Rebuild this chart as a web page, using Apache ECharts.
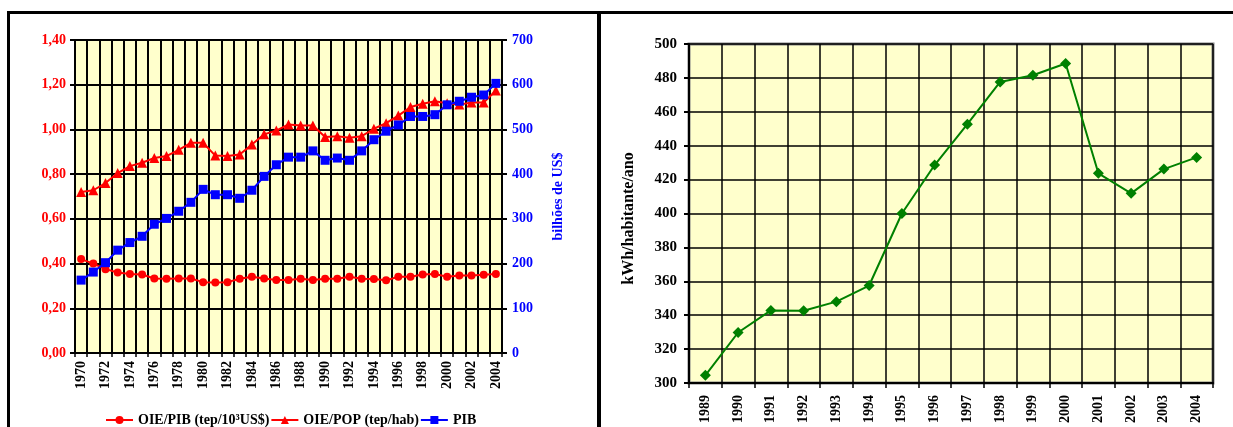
<!DOCTYPE html>
<html>
<head>
<meta charset="utf-8">
<script src="https://cdn.jsdelivr.net/npm/echarts@6/dist/echarts.min.js"></script>
<style>
html,body{margin:0;padding:0;background:#fff;}
#c{width:1233px;height:427px;}
</style>
</head>
<body>
<div id="c"></div>
<script>
const yearsLeft = ['1970','1971','1972','1973','1974','1975','1976','1977','1978','1979','1980','1981','1982','1983','1984','1985','1986','1987','1988','1989','1990','1991','1992','1993','1994','1995','1996','1997','1998','1999','2000','2001','2002','2003','2004'];
const oiePib = [0.42,0.40,0.375,0.36,0.353,0.351,0.333,0.332,0.333,0.333,0.317,0.315,0.317,0.332,0.341,0.333,0.326,0.326,0.332,0.326,0.332,0.332,0.341,0.332,0.331,0.325,0.341,0.341,0.351,0.353,0.341,0.347,0.347,0.35,0.353];
const oiePop = [0.72,0.728,0.76,0.805,0.836,0.851,0.872,0.881,0.909,0.94,0.94,0.883,0.881,0.888,0.933,0.978,0.995,1.022,1.018,1.018,0.966,0.97,0.963,0.97,1.003,1.028,1.062,1.10,1.115,1.126,1.117,1.111,1.12,1.12,1.174];
const pib = [163,181,202,230,247,261,288,301,317,337,366,354,354,346,364,395,421,438,438,452,431,436,431,452,477,496,510,529,529,533,555,563,572,577,603];
const yearsRight = ['1989','1990','1991','1992','1993','1994','1995','1996','1997','1998','1999','2000','2001','2002','2003','2004'];
const kwh = [304.5,329.8,342.8,342.6,348,357.5,400,428.6,452.7,477.6,481.6,488.5,423.7,411.9,426.2,433.1];
const leftTicks = {min:0, max:1.4, interval:0.2};
const rightTicks = {min:0, max:700, interval:100};
const kwhTicks = {min:300, max:500, interval:20};

const SERIF = '"Liberation Serif","Times New Roman",serif';
const chart = echarts.init(document.getElementById('c'), null, {renderer:'canvas'});
chart.setOption({
  animation:false,
  backgroundColor:'#ffffff',
  textStyle:{fontFamily:SERIF},
  grid:[
    {left:75, top:40, width:427, height:313, show:true, backgroundColor:'#FFFFCC', borderColor:'#808080', borderWidth:2},
    {left:689, top:44, width:524, height:339, show:true, backgroundColor:'#FFFFCC', borderColor:'#808080', borderWidth:3}
  ],
  legend:{
    left:100, top:408, itemWidth:27, itemHeight:10, itemGap:1,
    textStyle:{fontFamily:SERIF, fontWeight:'bold', fontSize:14, color:'#000'},
    data:['OIE/PIB (tep/10³US$)','OIE/POP (tep/hab)','PIB']
  },
  xAxis:[
    {type:'category', gridIndex:0, data:yearsLeft, boundaryGap:true,
     axisLine:{lineStyle:{color:'#000', width:2}},
     axisTick:{show:true, interval:0, length:4, lineStyle:{color:'#000', width:1.5}},
     axisLabel:{interval:1, rotate:90, margin:8, color:'#000', fontWeight:'bold', fontSize:14, fontFamily:SERIF},
     splitLine:{show:true, interval:0, lineStyle:{color:'#000', width:2}}},
    {type:'category', gridIndex:1, data:yearsRight, boundaryGap:true,
     axisLine:{lineStyle:{color:'#000', width:2}},
     axisTick:{show:true, interval:0, length:5, lineStyle:{color:'#000', width:1.5}},
     axisLabel:{interval:0, rotate:90, margin:12, color:'#000', fontWeight:'bold', fontSize:14, fontFamily:SERIF},
     splitLine:{show:true, interval:0, lineStyle:{color:'#000', width:1.5}}}
  ],
  yAxis:[
    {type:'value', gridIndex:0, min:leftTicks.min, max:leftTicks.max, interval:leftTicks.interval, position:'left',
     axisLine:{show:true, lineStyle:{color:'#000', width:2}},
     axisTick:{show:true, length:5, lineStyle:{color:'#000', width:2}},
     axisLabel:{margin:9, color:'#FF0000', fontWeight:'bold', fontSize:14, fontFamily:SERIF,
       formatter:v=>v.toFixed(2).replace('.',',')},
     splitLine:{show:true, lineStyle:{color:'#000', width:2}}},
    {type:'value', gridIndex:0, min:rightTicks.min, max:rightTicks.max, interval:rightTicks.interval, position:'right',
     name:'bilhões de US$', nameLocation:'middle', nameRotate:90, nameGap:49,
     nameTextStyle:{color:'#0000FF', fontWeight:'bold', fontSize:14, fontFamily:SERIF},
     axisLine:{show:true, lineStyle:{color:'#000', width:2}},
     axisTick:{show:true, length:5, lineStyle:{color:'#000', width:2}},
     axisLabel:{margin:10, color:'#0000FF', fontWeight:'bold', fontSize:14, fontFamily:SERIF},
     splitLine:{show:false}},
    {type:'value', gridIndex:1, min:kwhTicks.min, max:kwhTicks.max, interval:kwhTicks.interval, position:'left',
     name:'kWh/habitante/ano', nameLocation:'middle', nameRotate:90, nameGap:52,
     nameTextStyle:{color:'#000', fontWeight:'bold', fontSize:16, fontFamily:SERIF, padding:[0,0,0,-10]},
     axisLine:{show:true, lineStyle:{color:'#000', width:2}},
     axisTick:{show:true, length:5, lineStyle:{color:'#000', width:2}},
     axisLabel:{margin:12, color:'#000', fontWeight:'bold', fontSize:15, fontFamily:SERIF},
     splitLine:{show:true, lineStyle:{color:'#000', width:1.5}}}
  ],
  series:[
    {name:'OIE/PIB (tep/10³US$)', type:'line', xAxisIndex:0, yAxisIndex:0, data:oiePib, showAllSymbol:true,
     symbol:'circle', symbolSize:8, color:'#FF0000', lineStyle:{width:2, color:'#FF0000'}, itemStyle:{color:'#FF0000'}},
    {name:'OIE/POP (tep/hab)', type:'line', xAxisIndex:0, yAxisIndex:0, data:oiePop, showAllSymbol:true,
     symbol:'triangle', symbolSize:10, color:'#FF0000', lineStyle:{width:2, color:'#FF0000'}, itemStyle:{color:'#FF0000'}},
    {name:'PIB', type:'line', xAxisIndex:0, yAxisIndex:1, data:pib, showAllSymbol:true,
     symbol:'rect', symbolSize:9, color:'#0000FF', lineStyle:{width:2, color:'#0000FF'}, itemStyle:{color:'#0000FF'}},
    {name:'kWh', type:'line', xAxisIndex:1, yAxisIndex:2, data:kwh, showAllSymbol:true,
     symbol:'diamond', symbolSize:11, color:'#008000', lineStyle:{width:2, color:'#008000'}, itemStyle:{color:'#008000'}}
  ],
  graphic:[
    {type:'line', shape:{x1:7, y1:12.5, x2:1233, y2:12.5}, style:{stroke:'#000', lineWidth:3}, silent:true},
    {type:'line', shape:{x1:8.5, y1:11, x2:8.5, y2:427}, style:{stroke:'#000', lineWidth:3}, silent:true},
    {type:'line', shape:{x1:599, y1:11, x2:599, y2:427}, style:{stroke:'#000', lineWidth:4}, silent:true}
  ]
});
</script>
</body>
</html>
